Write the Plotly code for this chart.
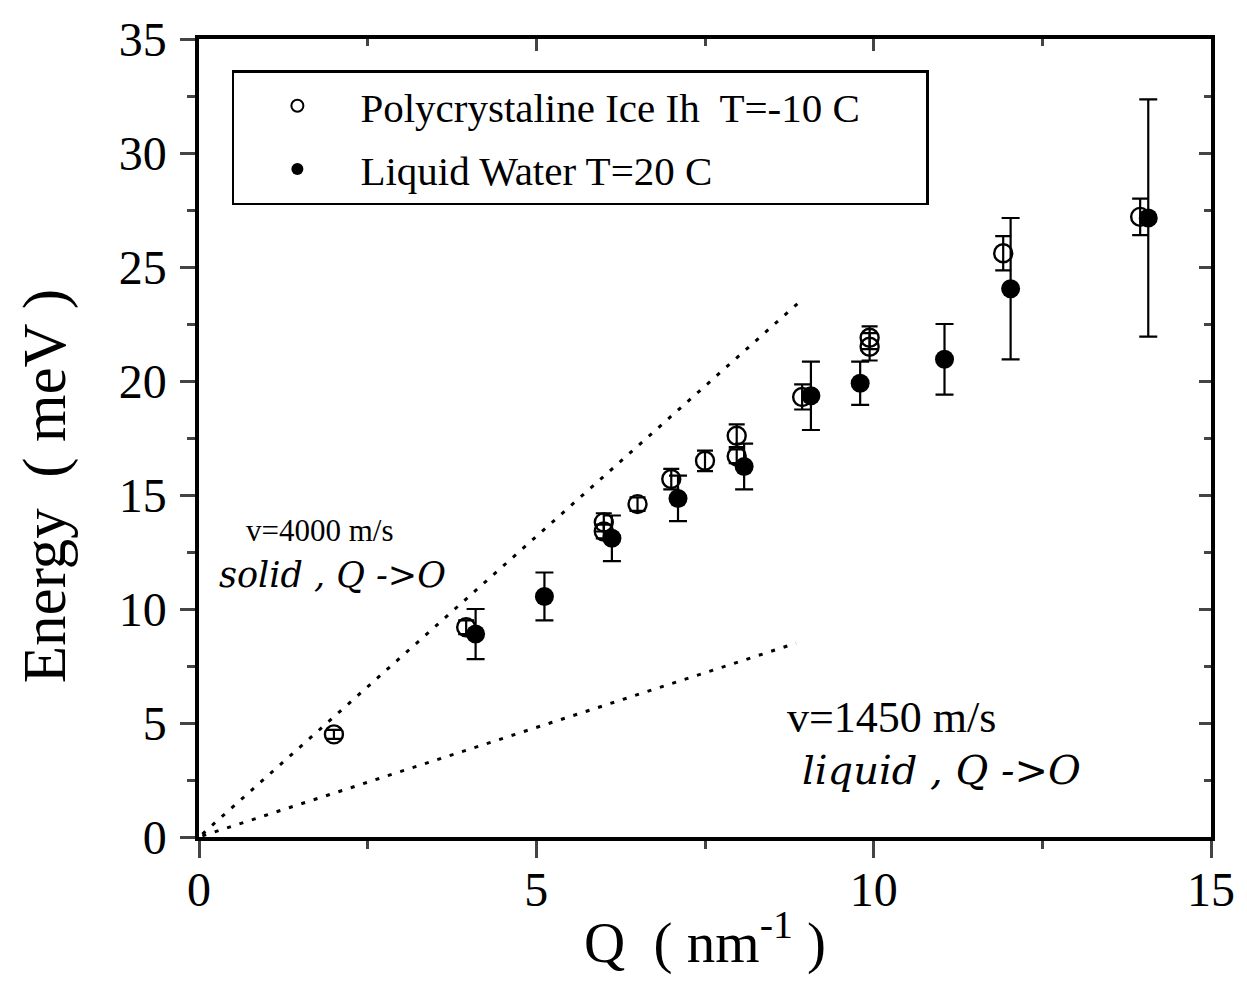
import plotly.graph_objects as go

# ---- data ----
ice_q = [2.0, 3.96, 6.0, 6.0, 6.5, 7.0, 7.5, 7.97, 7.97, 8.94, 9.94, 9.94, 11.92, 13.95]
ice_e = [4.5, 9.2, 13.8, 13.4, 14.6, 15.7, 16.5, 17.6, 16.7, 19.3, 21.9, 21.5, 25.6, 27.2]
ice_err = [0.2, 0.3, 0.4, 0.3, 0.3, 0.45, 0.45, 0.5, 0.3, 0.55, 0.5, 0.6, 0.75, 0.8]

water_q = [4.1, 5.12, 6.12, 7.1, 8.08, 9.07, 9.8, 11.05, 12.03, 14.07]
water_e = [8.9, 10.55, 13.1, 14.85, 16.25, 19.35, 19.9, 20.95, 24.05, 27.15]
water_err = [1.1, 1.05, 1.0, 1.0, 1.0, 1.5, 0.95, 1.55, 3.1, 5.2]

# dispersion lines (E = hbar * v * Q) endpoints
solid_q = [0.05, 8.95]
solid_e = [0.13, 23.6]
liquid_q = [0.05, 8.85]
liquid_e = [0.05, 8.5]

x_ticks = [0, 5, 10, 15]
y_ticks = [0, 5, 10, 15, 20, 25, 30, 35]

SERIF = "Liberation Serif, Times New Roman, serif"
NB = "\u00a0"

fig = go.Figure()

dot = dict(color="black", width=3, dash="4px,9px")
fig.add_trace(go.Scatter(x=solid_q, y=solid_e, mode="lines", line=dot,
                         showlegend=False, hoverinfo="skip"))
fig.add_trace(go.Scatter(x=liquid_q, y=liquid_e, mode="lines", line=dot,
                         showlegend=False, hoverinfo="skip"))

fig.add_trace(go.Scatter(
    x=ice_q, y=ice_e, mode="markers", name="Polycrystaline Ice Ih  T=-10 C" + NB * 6,
    marker=dict(symbol="circle-open", size=18, color="black", line=dict(width=2.4)),
    error_y=dict(type="data", array=ice_err, color="black", thickness=2.2, width=8),
    legendgroup="a"))
fig.add_trace(go.Scatter(
    x=water_q, y=water_e, mode="markers", name="Liquid Water T=20 C",
    marker=dict(symbol="circle", size=19, color="black"),
    error_y=dict(type="data", array=water_err, color="black", thickness=2.2, width=9),
    legendgroup="b"))

# dummy trace to materialise the mirrored (inside-tick) axes
fig.add_trace(go.Scatter(x=[None], y=[None], xaxis="x2", yaxis="y2",
                         showlegend=False, hoverinfo="skip"))

tickfont = dict(family=SERIF, size=48, color="black")

fig.update_layout(
    width=1247, height=990,
    margin=dict(l=199, r=34, t=39, b=153),
    paper_bgcolor="white", plot_bgcolor="white",
    font=dict(family=SERIF, color="black"),
    xaxis=dict(range=[0, 15], tickvals=x_ticks, ticks="outside", ticklen=17, tickwidth=2.5,
               minor=dict(dtick=2.5, tick0=0, ticks="outside", ticklen=8, tickwidth=2.5, showgrid=False),
               showline=True, linewidth=3.5, linecolor="black", showgrid=False, zeroline=False,
               tickfont=tickfont, ticklabelstandoff=-9,
               title=dict(text="Q  ( nm<sup>-1</sup> )", font=dict(family=SERIF, size=57), standoff=8)),
    yaxis=dict(range=[0, 35], tickvals=y_ticks, ticks="outside", ticklen=15, tickwidth=2.5,
               minor=dict(dtick=2.5, tick0=0, ticks="outside", ticklen=8, tickwidth=2.5, showgrid=False),
               showline=True, linewidth=3.5, linecolor="black", showgrid=False, zeroline=False,
               tickfont=tickfont, ticklabelstandoff=4),
    xaxis2=dict(range=[0, 15], overlaying="x", side="top", anchor="y", tickvals=x_ticks,
                ticks="inside", ticklen=12, tickwidth=2.5, showticklabels=False,
                minor=dict(dtick=2.5, tick0=0, ticks="inside", ticklen=7, tickwidth=2.5),
                showline=True, linewidth=3.5, linecolor="black", showgrid=False, zeroline=False),
    yaxis2=dict(range=[0, 35], overlaying="y", side="right", anchor="x", tickvals=y_ticks,
                ticks="inside", ticklen=12, tickwidth=2.5, showticklabels=False,
                minor=dict(dtick=2.5, tick0=0, ticks="inside", ticklen=7, tickwidth=2.5),
                showline=True, linewidth=3.5, linecolor="black", showgrid=False, zeroline=False),
    legend=dict(x=0.0325, y=0.961, xanchor="left", yanchor="top",
                bordercolor="black", borderwidth=2.5, bgcolor="white",
                font=dict(family=SERIF, size=41), itemwidth=116, tracegroupgap=7,
                itemsizing="constant"),
    showlegend=True,
)

# y-axis title (placed as a rotated annotation to match the reference's offset)
fig.add_annotation(xref="paper", yref="paper", x=-0.152, y=(837 - 486) / 798,
                   text="Energy  ( meV )", textangle=-90, showarrow=False,
                   xanchor="center", yanchor="middle",
                   font=dict(family=SERIF, size=61, color="black"))

hand = "DejaVu Serif, serif"
fig.add_annotation(x=1.79, y=13.45, text="v=4000 m/s", showarrow=False,
                   font=dict(family=SERIF, size=31, color="black"))
fig.add_annotation(x=1.98, y=11.5, text="solid , Q ->O", showarrow=False,
                   font=dict(family=hand, size=35, color="black", style="italic"))
fig.add_annotation(x=10.27, y=5.25, text="v=1450 m/s", showarrow=False,
                   font=dict(family=SERIF, size=44, color="black"))
fig.add_annotation(x=11.0, y=2.95, text="liquid , Q ->O", showarrow=False,
                   font=dict(family=hand, size=40, color="black", style="italic"))

fig.write_html("out.html")
